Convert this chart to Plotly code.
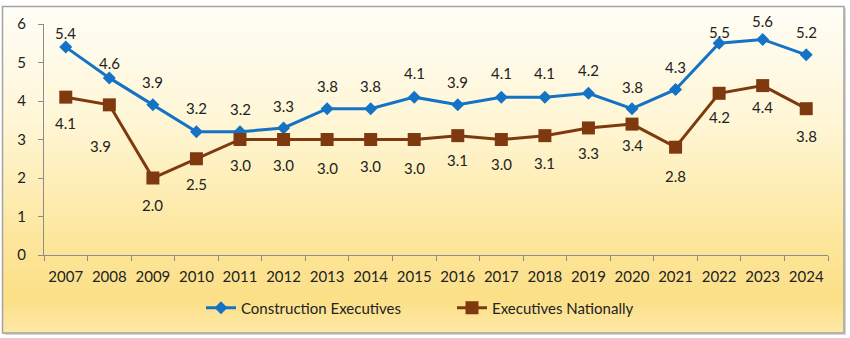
import plotly.graph_objects as go

# ---- data -------------------------------------------------------------
years = [str(y) for y in range(2007, 2025)]
construction = [5.4, 4.6, 3.9, 3.2, 3.2, 3.3, 3.8, 3.8, 4.1, 3.9, 4.1, 4.1, 4.2, 3.8, 4.3, 5.5, 5.6, 5.2]
national = [4.1, 3.9, 2.0, 2.5, 3.0, 3.0, 3.0, 3.0, 3.0, 3.1, 3.0, 3.1, 3.3, 3.4, 2.8, 4.2, 4.4, 3.8]
y_ticks = [0, 1, 2, 3, 4, 5, 6]

# label offsets in pixels (above the blue points, below the brown ones)
construction_label_up = [14, 15, 23, 24, 23, 22, 23, 23, 24, 23, 24, 24, 23, 22, 22, 11, 18, 23]
national_label_down = [26, 41, 27, 25, 25, 25, 28, 26, 28, 24, 24, 27, 25, 21, 29, 24, 21, 27]

BLUE = "#1473C4"
BROWN = "#7E3A0E"
TEXT = "#222222"
FONT = "Lato"
FS = 15

W, H = 850, 338
L, R, T, B = 44, 22, 24, 83          # plot-area margins
PW, PH = W - L - R, H - T - B


def px_x(px):
    return (px - L) / PW


def px_y(py):
    return (H - B - py) / PH


fig = go.Figure()

fig.add_trace(go.Scatter(
    x=years, y=construction, name="Construction Executives",
    mode="lines+markers",
    line=dict(color=BLUE, width=3),
    marker=dict(symbol="diamond", size=10, color=BLUE),
    cliponaxis=False,
))
fig.add_trace(go.Scatter(
    x=years, y=national, name="Executives Nationally",
    mode="lines+markers",
    line=dict(color=BROWN, width=3),
    marker=dict(symbol="square", size=13, color=BROWN),
    cliponaxis=False,
))

# value labels; x given as the category index so numeric-looking year
# strings are not taken as positions on the axis
annotations = []
for i, yr in enumerate(years):
    annotations.append(dict(
        x=i, y=construction[i], text=f"{construction[i]:.1f}",
        showarrow=False, xanchor="center", yanchor="middle",
        yshift=construction_label_up[i],
        font=dict(family=FONT, size=FS, color=TEXT),
    ))
    annotations.append(dict(
        x=i, y=national[i], text=f"{national[i]:.1f}",
        showarrow=False, xanchor="center", yanchor="middle",
        yshift=-national_label_down[i], xshift=-9 if yr == "2008" else 0,
        font=dict(family=FONT, size=FS, color=TEXT),
    ))

# ---- gradient chart-area background built from thin bands --------------
stops = [
    (0.00, (255, 254, 247)),
    (0.35, (255, 246, 214)),
    (0.70, (253, 231, 158)),
    (0.90, (252, 223, 134)),
    (1.00, (254, 233, 170)),
]


def grad(t):
    for (t0, c0), (t1, c1) in zip(stops, stops[1:]):
        if t0 <= t <= t1:
            f = (t - t0) / (t1 - t0)
            return tuple(round(a + (b - a) * f) for a, b in zip(c0, c1))
    return stops[-1][1]


frame_l, frame_r, frame_t, frame_b = 2.5, 844.0, 6.5, 333.0
shapes = []
# soft drop shadow
shapes.append(dict(type="rect", xref="paper", yref="paper", layer="below",
                   x0=px_x(frame_l + 2), x1=px_x(frame_r + 2),
                   y0=px_y(frame_t + 2), y1=px_y(frame_b + 2),
                   line=dict(width=0), fillcolor="#D6D6D6"))
n = 90
band = (frame_b - frame_t) / n
for k in range(n):
    r, g, b = grad((k + 0.5) / n)
    y0 = frame_t + k * band
    shapes.append(dict(type="rect", xref="paper", yref="paper", layer="below",
                       x0=px_x(frame_l), x1=px_x(frame_r),
                       y0=px_y(y0), y1=px_y(y0 + band + 0.6),
                       line=dict(width=0), fillcolor=f"rgb({r},{g},{b})"))
shapes.append(dict(type="rect", xref="paper", yref="paper", layer="below",
                   x0=px_x(frame_l), x1=px_x(frame_r),
                   y0=px_y(frame_t), y1=px_y(frame_b),
                   line=dict(width=1.5, color="#A3A3A3"), fillcolor="rgba(0,0,0,0)"))

fig.update_layout(
    width=W, height=H,
    margin=dict(l=L, r=R, t=T, b=B, pad=0),
    paper_bgcolor="white",
    plot_bgcolor="rgba(0,0,0,0)",
    font=dict(family=FONT, size=FS, color=TEXT),
    shapes=shapes,
    annotations=annotations,
    showlegend=True,
    legend=dict(
        orientation="h", xref="paper", yref="paper",
        x=px_x(206 - 5), xanchor="left", y=px_y(308), yanchor="middle",
        entrywidth=206, entrywidthmode="pixels",
        font=dict(family=FONT, size=FS, color=TEXT),
        bgcolor="rgba(0,0,0,0)",
    ),
    xaxis=dict(
        type="category", categoryorder="array", categoryarray=years,
        range=[-0.5, len(years) - 0.5], tickangle=0,
        showgrid=False, zeroline=False,
        showline=True, linecolor="#8C8C8C", linewidth=1,
        ticks="outside", tickson="boundaries", ticklen=5, tickcolor="#8C8C8C",
        ticklabelstandoff=8,
        tickfont=dict(family=FONT, size=FS, color=TEXT),
    ),
    yaxis=dict(
        range=[0, 6], tickvals=y_ticks, showgrid=False, zeroline=False,
        showline=True, linecolor="#8C8C8C", linewidth=1,
        ticks="outside", ticklen=5, tickcolor="#8C8C8C",
        ticklabelstandoff=9,
        tickfont=dict(family=FONT, size=FS, color=TEXT),
    ),
)

fig.write_html("out.html")
